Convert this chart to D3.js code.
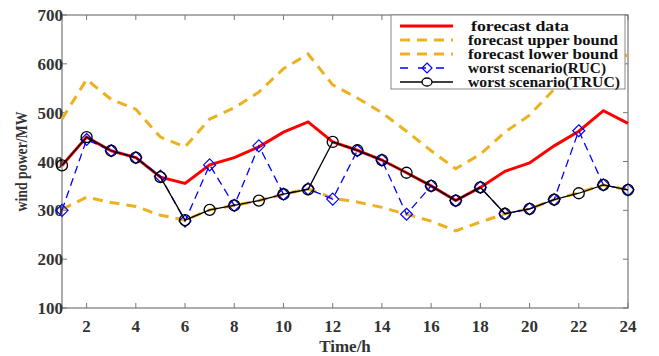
<!DOCTYPE html>
<html>
<head>
<meta charset="utf-8">
<script src="https://cdn.jsdelivr.net/npm/d3@7"></script>
<style>
  body { margin: 0; background: #fff; }
  text { font-family: "Liberation Serif", "Times New Roman", serif; font-weight: bold; }
</style>
</head>
<body>
<svg></svg>
<script>
const width = 659;
const height = 356;
const margin = {top: 15, right: 31, bottom: 48, left: 62};

const hours = d3.range(1, 25);
const forecast = [392, 450, 422, 408, 368, 355, 393, 408, 430, 460, 481, 440, 423, 403, 377, 350, 320, 347, 380, 397, 432, 462, 504, 478];
const upperBound = [487, 568, 527, 507, 450, 430, 487, 510, 542, 590, 620, 557, 530, 500, 462, 422, 385, 415, 460, 495, 548, 600, 645, 615];
const lowerBound = [302, 327, 316, 308, 290, 280, 301, 310, 320, 333, 344, 325, 317, 306, 292, 278, 258, 276, 293, 303, 322, 336, 352, 342];
const rucWorst = [300, 445, 422, 408, 370, 278, 393, 310, 432, 333, 344, 323, 422, 403, 292, 350, 320, 347, 293, 303, 322, 463, 352, 342];
const trucWorst = [392, 450, 422, 408, 368, 280, 301, 310, 320, 333, 343, 440, 423, 403, 377, 350, 320, 347, 293, 303, 322, 335, 352, 342];
const xTicks = d3.range(2, 25, 2);
const yTicks = d3.range(100, 701, 100);
const legendLabels = ['forecast data', 'forecast upper bound', 'forecast lower bound', 'worst scenario(RUC)', 'worst scenario(TRUC)'];

const svg = d3.select('svg').attr('width', width).attr('height', height);

const x = d3.scaleLinear().domain([1, 24]).range([margin.left, width - margin.right]);
const y = d3.scaleLinear().domain([100, 700]).range([height - margin.bottom, margin.top]);

const axisColor = '#777';
const tickLen = 5;

// box
svg.append('rect')
  .attr('x', x(1)).attr('y', y(700))
  .attr('width', x(24) - x(1)).attr('height', y(100) - y(700))
  .attr('fill', 'none').attr('stroke', axisColor).attr('stroke-width', 1.2);

// inward ticks on all four sides
xTicks.forEach(t => {
  svg.append('line').attr('x1', x(t)).attr('x2', x(t)).attr('y1', y(100)).attr('y2', y(100) - tickLen).attr('stroke', axisColor);
  svg.append('line').attr('x1', x(t)).attr('x2', x(t)).attr('y1', y(700)).attr('y2', y(700) + tickLen).attr('stroke', axisColor);
  svg.append('text').attr('x', x(t)).attr('y', y(100) + 24).attr('text-anchor', 'middle')
    .attr('font-size', 17).attr('fill', '#333').text(t);
});
yTicks.forEach(t => {
  svg.append('line').attr('x1', x(1)).attr('x2', x(1) + tickLen).attr('y1', y(t)).attr('y2', y(t)).attr('stroke', axisColor);
  svg.append('line').attr('x1', x(24)).attr('x2', x(24) - tickLen).attr('y1', y(t)).attr('y2', y(t)).attr('stroke', axisColor);
  svg.append('text').attr('x', x(1) + 1).attr('y', y(t) + 6).attr('text-anchor', 'end')
    .attr('font-size', 17).attr('fill', '#333').text(t);
});

svg.append('text').attr('x', (x(1) + x(24)) / 2).attr('y', 352).attr('text-anchor', 'middle')
  .attr('font-size', 17).attr('fill', '#333').text('Time/h');
svg.append('text').attr('transform', `translate(27, ${(y(100) + y(700)) / 2}) rotate(-90)`)
  .attr('text-anchor', 'middle').attr('font-size', 17).attr('fill', '#333')
  .attr('textLength', 100).attr('lengthAdjust', 'spacingAndGlyphs').text('wind power/MW');

const line = d3.line().x((d, i) => x(hours[i])).y(d => y(d));
const plot = svg.append('g');

plot.append('path').datum(forecast).attr('d', line).attr('fill', 'none').attr('stroke', '#ff0000').attr('stroke-width', 3);
plot.append('path').datum(upperBound).attr('d', line).attr('fill', 'none').attr('stroke', '#edb120').attr('stroke-width', 3).attr('stroke-dasharray', '10,7');
plot.append('path').datum(lowerBound).attr('d', line).attr('fill', 'none').attr('stroke', '#edb120').attr('stroke-width', 3).attr('stroke-dasharray', '10,7');
plot.append('path').datum(rucWorst).attr('d', line).attr('fill', 'none').attr('stroke', '#0000ff').attr('stroke-width', 1.3).attr('stroke-dasharray', '8,5');

const diamond = (cx, cy, r) => `M${cx},${cy - r}L${cx + r},${cy}L${cx},${cy + r}L${cx - r},${cy}Z`;
plot.selectAll('.ruc').data(rucWorst).enter().append('path').attr('class', 'ruc')
  .attr('d', (d, i) => diamond(x(hours[i]), y(d), 6))
  .attr('fill', 'none').attr('stroke', '#0000ff').attr('stroke-width', 1.2);

plot.append('path').datum(trucWorst).attr('d', line).attr('fill', 'none').attr('stroke', '#000').attr('stroke-width', 1.3);
plot.selectAll('.truc').data(trucWorst).enter().append('circle').attr('class', 'truc')
  .attr('cx', (d, i) => x(hours[i])).attr('cy', d => y(d)).attr('r', 5.5)
  .attr('fill', 'none').attr('stroke', '#000').attr('stroke-width', 1.3);

// legend
const lg = svg.append('g');
lg.append('rect').attr('x', 391).attr('y', 15).attr('width', 234).attr('height', 74)
  .attr('fill', '#fff').attr('stroke', '#888').attr('stroke-width', 1);
const rowY = i => 26 + i * 14;
const legendStyles = [
  {color: '#ff0000', w: 3, dash: null},
  {color: '#edb120', w: 3, dash: '10,7'},
  {color: '#edb120', w: 3, dash: '10,7'},
  {color: '#0000ff', w: 1.3, dash: '8,10'},
  {color: '#000', w: 1.3, dash: null}
];
const legendWidths = [98, 150, 150, 138, 152];
legendLabels.forEach((lab, i) => {
  const s = legendStyles[i];
  const ln = lg.append('line').attr('x1', 400).attr('x2', 453).attr('y1', rowY(i)).attr('y2', rowY(i))
    .attr('stroke', s.color).attr('stroke-width', s.w);
  if (s.dash) ln.attr('stroke-dasharray', s.dash);
  if (i === 3) lg.append('path').attr('d', diamond(427, rowY(i), 5)).attr('fill', 'none').attr('stroke', s.color).attr('stroke-width', 1.2);
  if (i === 4) lg.append('ellipse').attr('cx', 427).attr('cy', rowY(i)).attr('rx', 5).attr('ry', 4).attr('fill', '#fff').attr('stroke', '#000').attr('stroke-width', 1.3);
  lg.append('text').attr('x', i === 0 ? 471 : 468).attr('y', rowY(i) + 5)
    .attr('font-size', 14).attr('fill', '#111')
    .attr('textLength', legendWidths[i]).attr('lengthAdjust', 'spacingAndGlyphs').text(lab);
});
</script>
</body>
</html>
